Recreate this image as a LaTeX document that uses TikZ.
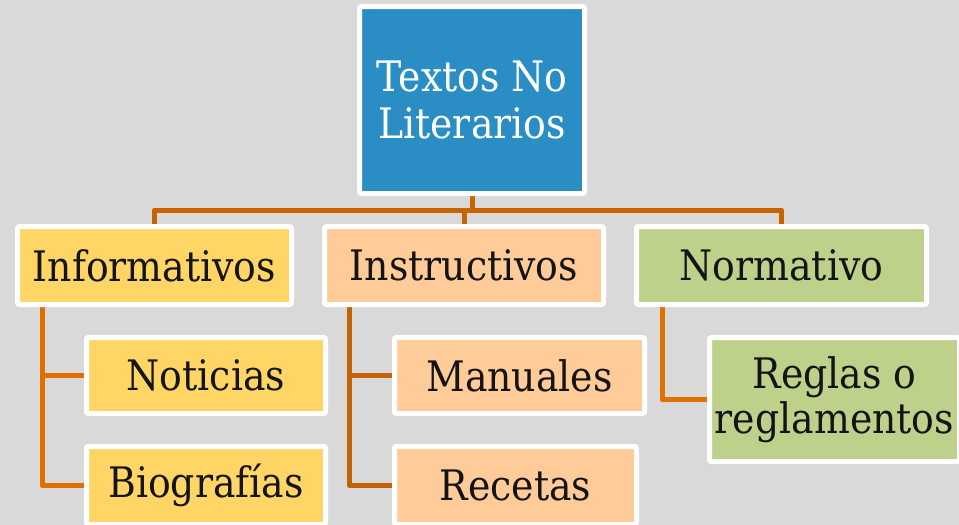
\documentclass[tikz,border=0pt]{standalone}
\usepackage{fontspec}
\setmainfont{DejaVu Serif}[FakeStretch=0.9]
\usetikzlibrary{backgrounds}
\definecolor{bgc}{HTML}{D9D9D9}
\definecolor{rootc}{HTML}{2A8DC3}
\definecolor{yelc}{HTML}{FFD666}
\definecolor{peac}{HTML}{FFCC99}
\definecolor{grnc}{HTML}{BDD18B}
\definecolor{txtc}{HTML}{141414}
\definecolor{linkA}{HTML}{C86400}
\definecolor{linkB}{HTML}{E07000}
\definecolor{linkC}{HTML}{C46208}
\begin{document}
\begin{tikzpicture}[x=1pt,y=-1pt,
  box/.style={draw=white, line width=5pt, rounded corners=2pt, inner sep=0pt,
    font=\fontsize{42}{46}\selectfont, text=txtc, align=center},
  link/.style={line width=5pt, line join=round}]
\useasboundingbox (0,0) rectangle (959,525);
\begin{scope}[on background layer]
  \fill[bgc] (0,0) rectangle (959,525);
\end{scope}
\node[box, fill=rootc, text=white, minimum width=225pt, minimum height=187pt,
  font=\fontsize{42}{47}\selectfont] (root) at (472,100) {Textos No\\Literarios};
\node[box, fill=yelc, minimum width=274pt, minimum height=78pt] (inf) at (154.5,265.5) {Informativos};
\node[box, fill=peac, minimum width=279pt, minimum height=78pt] (ins) at (464,265.5) {Instructivos};
\node[box, fill=grnc, minimum width=290pt, minimum height=78pt] (nor) at (781.5,265.5) {Normativo};
\node[box, fill=yelc, minimum width=239pt, minimum height=76pt] (noti) at (206,375.5) {Noticias};
\node[box, fill=yelc, minimum width=239pt, minimum height=78pt] (bio) at (206,485.5) {Biografías};
\node[box, fill=peac, minimum width=250pt, minimum height=76pt] (man) at (519.5,375.5) {Manuales};
\node[box, fill=peac, minimum width=242pt, minimum height=78pt] (rec) at (515.5,485.5) {Recetas};
\node[box, fill=grnc, minimum width=250pt, minimum height=124pt, font=\fontsize{42}{45}\selectfont] (reg) at (834.5,399.5) {Reglas o\\reglamentos};
\begin{scope}[on background layer]
  \coordinate (hub) at (472,210);
  \draw[link, linkA] (root.south) -- (hub) -| (inf.north);
  \draw[link, linkA] (hub) -| (ins.north);
  \draw[link, linkA] (hub) -| (nor.north);
  \draw[link, linkB] ([xshift=27.5pt]inf.south west) |- (bio.west);
  \draw[link, linkB] ([xshift=27.5pt]inf.south west |- noti.west) -- (noti.west);
  \draw[link, linkC] ([xshift=27.5pt]ins.south west) |- (rec.west);
  \draw[link, linkC] ([xshift=27.5pt]ins.south west |- man.west) -- (man.west);
  \draw[link, linkB] ([xshift=28pt]nor.south west) |- (reg.west);
\end{scope}
\end{tikzpicture}
\end{document}
